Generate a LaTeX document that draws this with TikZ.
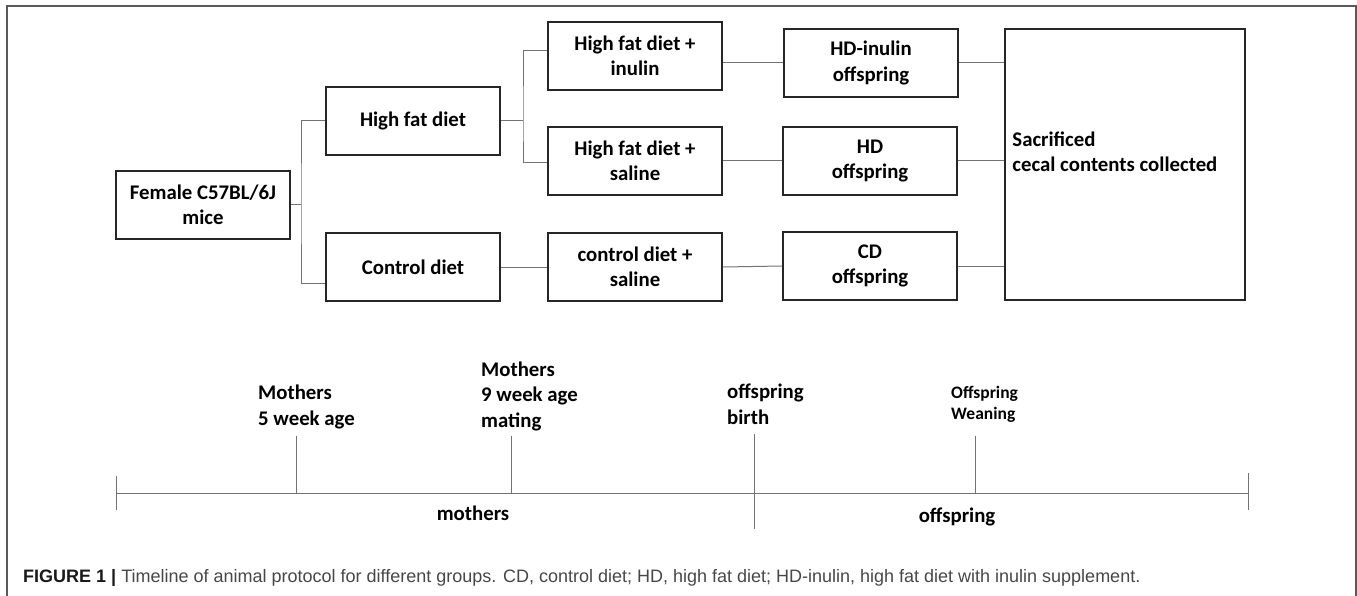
\documentclass[tikz,border=0pt]{standalone}
\usepackage{fontspec}
\setmainfont{Carlito}
\newfontfamily\capfont{Liberation Sans}
\usetikzlibrary{positioning,calc}
\newcommand{\boxfont}{\bfseries\fontsize{20.8}{25.5}\selectfont}
\newcommand{\smallfont}{\bfseries\fontsize{17.5}{21}\selectfont}

\begin{document}
\begin{tikzpicture}[x=1pt,y=-1pt,
  stage/.style={draw=black!85,line width=1.6pt,minimum width=174pt,minimum height=68pt,align=center,font=\boxfont},
  link/.style={draw=black!55,line width=1pt},
  lbl/.style={anchor=base west,align=left,inner sep=0pt,font=\boxfont}]
\useasboundingbox (0,0) rectangle (1357,596);
% frame
\draw[black!65,line width=1.5pt] (7,596) |- (1356,6) -- (1356,596);
% groups
\node[stage] (female) at (203,205) {Female C57BL/6J\\mice};
\node[stage] (hfd) at (413,121) {High fat diet};
\node[stage] (ctl) at (413,267) {Control diet};
\node[stage] (hfi) at (635,56) {High fat diet +\\inulin};
\node[stage] (hfs) at (635,161) {High fat diet +\\saline};
\node[stage] (cds) at (635,267) {control diet +\\saline};
\node[stage] (offi) at (871,63) {HD-inulin\\offspring};
\node[stage] (offh) at (870,161) {HD\\offspring};
\node[stage] (offc) at (870,266) {CD\\offspring};
\node[stage,minimum width=240pt,minimum height=271pt] (sac) at (1125,164.5) {};
\node[lbl] (sactext) at ([shift={(8,7.5)}]sac.west) {Sacrificed\\cecal contents collected};
% links
\coordinate (jf) at (301,205);
\draw[link] (female.east) -- (jf);
\draw[link] (hfd.west) -| (jf) |- ([yshift=-16pt]ctl.west);
\coordinate (jh) at (523,121);
\draw[link] (hfd.east) -- (jh);
\draw[link] ([yshift=5pt]hfi.west) -| (jh) |- ([yshift=-2pt]hfs.west);
\draw[link] (ctl.east) -- (cds.west);
\draw[link] ([yshift=-7pt]hfi.east) -- (offi.west);
\draw[link] (hfs.east) -- (offh.west);
\draw[link] (cds.east) -- (offc.west);
\foreach \n in {offi,offh,offc}{\draw[link] (\n.east) -- (\n.east -| sac.west);}
% timeline
\coordinate (t0) at (116,493);
\coordinate (t1) at (1248,493);
\draw[link] (t0) -- (t1);
\draw[link] ([yshift=17pt]t0) -- ([yshift=-17pt]t0);
\draw[link] ([yshift=20pt]t1) -- ([yshift=-17pt]t1);
\foreach \x/\id in {296/a,511/b,975/d}{
  \coordinate (k\id) at (\x,493);
  \draw[link] (k\id) -- ++(0,-57);
}
\coordinate (kc) at (754,493);
\draw[link] ([yshift=59pt]kc) -- ([yshift=-36pt]kc);
\node[lbl] (l5) at (258,425) {Mothers\\5 week age};
\node[lbl] (l9) at (481,427) {Mothers\\9 week age\\mating};
\node[lbl] (lb) at (727,424) {offspring\\birth};
\node[lbl,font=\smallfont] (lw) at (951,419) {Offspring\\Weaning};
\node[lbl,anchor=base] (lm) at (473,520) {mothers};
\node[lbl,anchor=base] (lo) at (957,522) {offspring};
% caption
\node[anchor=base west,inner sep=0pt,font=\capfont\fontsize{18}{22}\selectfont,text=black!72] (cap) at (23,582) {{\bfseries\color{black!90}FIGURE 1 \textbar} Timeline of animal protocol for different groups. CD, control diet; HD, high fat diet; HD-inulin, high fat diet with inulin supplement.};
\end{tikzpicture}
\end{document}
